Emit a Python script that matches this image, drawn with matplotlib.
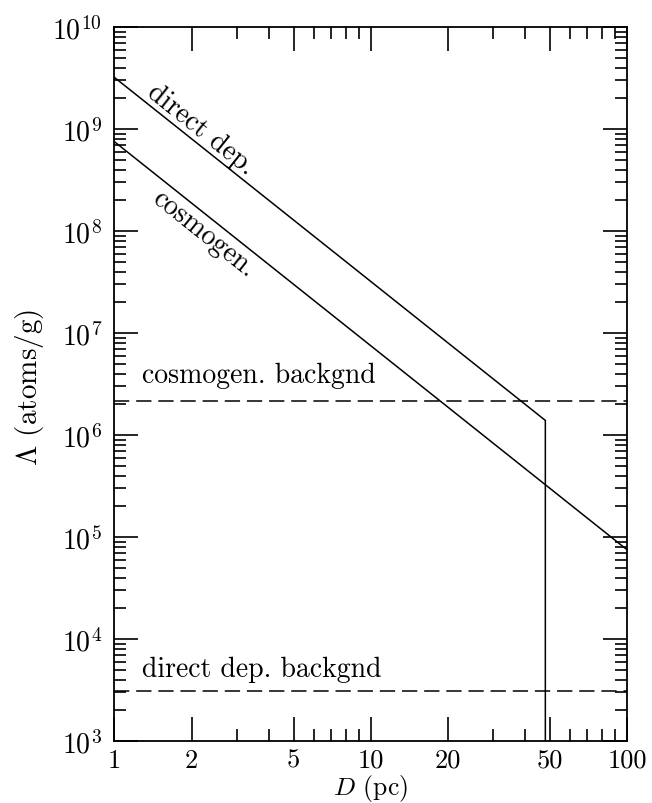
import numpy as np
import matplotlib
matplotlib.use("Agg")
import matplotlib.pyplot as plt
from matplotlib.ticker import FixedLocator, NullFormatter

plt.rcParams['font.family'] = 'serif'
plt.rcParams['font.serif'] = ['cmr10', 'DejaVu Serif']
plt.rcParams['mathtext.fontset'] = 'cm'
plt.rcParams['axes.formatter.use_mathtext'] = True

# ---- data ----
direct_D = [1.0, 48.0, 48.0]
direct_L = [3.2e9, 1.39e6, 1e2]
cosmo_D = [1.0, 100.0]
cosmo_L = [7.5e8, 7.5e4]
cosmo_bg = 2.15e6
direct_bg = 3.1e3

x_major = [1, 2, 5, 10, 20, 50, 100]
x_major_labels = ['1', '2', '5', '10', '20', '50', '100']
y_major = [1e3, 1e4, 1e5, 1e6, 1e7, 1e8, 1e9, 1e10]
y_major_labels = [r'$10^{%d}$' % e for e in range(3, 11)]

FS = 20

fig = plt.figure(figsize=(6.52, 8.04), dpi=100)
ax = fig.add_axes([0.1756, 0.0771, 0.9617 - 0.1756, 0.9652 - 0.0771])
ax.set_xscale('log')
ax.set_yscale('log')
ax.set_xlim(1, 100)
ax.set_ylim(1e3, 1e10)

lw = 1.1
ax.plot(direct_D, direct_L, color='black', lw=lw, solid_joinstyle='miter')
ax.plot(cosmo_D, cosmo_L, color='black', lw=lw)
dash = (0, (10, 4.5))
ax.axhline(cosmo_bg, color='black', lw=lw, linestyle=dash)
ax.axhline(direct_bg, color='black', lw=lw, linestyle=dash)

# ticks
ax.xaxis.set_major_locator(FixedLocator(x_major))
ax.set_xticklabels(x_major_labels)
xminor = [m * d for d in (1, 10) for m in (3, 4, 6, 7, 8, 9)]
ax.xaxis.set_minor_locator(FixedLocator(xminor))
ax.xaxis.set_minor_formatter(NullFormatter())
ax.yaxis.set_major_locator(FixedLocator(y_major))
ax.set_yticklabels(y_major_labels)
yminor = [m * 10.0 ** e for e in range(3, 10) for m in range(2, 10)]
ax.yaxis.set_minor_locator(FixedLocator(yminor))
ax.yaxis.set_minor_formatter(NullFormatter())

ax.tick_params(which='both', direction='in', top=True, right=True, width=1.2, color='black')
ax.tick_params(which='major', length=17)
ax.tick_params(which='minor', length=8.5)
ax.tick_params(axis='x', which='major', labelsize=19, pad=5)
ax.tick_params(axis='y', which='major', labelsize=FS, pad=9)
for s in ax.spines.values():
    s.set_linewidth(1.3)

# axis labels
ax.set_xlabel(r'$D$ (pc)', fontsize=18.5)
ax.xaxis.set_label_coords(0.4985, -0.0645)
ax.xaxis.label.set_va('center')
ax.set_ylabel(r'$\Lambda$ (atoms/g)', fontsize=FS + 1)
ax.yaxis.set_label_coords(-0.166, 0.497)
ax.yaxis.label.set_va('center')

# rotated labels along the slope-(-2) lines
fig.canvas.draw()
p1 = ax.transData.transform((1, 1e9))
p2 = ax.transData.transform((10, 1e7))
ang = np.degrees(np.arctan2(p2[1] - p1[1], p2[0] - p1[0]))
ax.text(2.18, 1.0e9, 'direct dep.', rotation=ang, rotation_mode='anchor',
        ha='center', va='center', fontsize=FS)
ax.text(2.22, 9.6e7, 'cosmogen.', rotation=ang, rotation_mode='anchor',
        ha='center', va='center', fontsize=FS)

ax.text(1.28, 3.3e6, 'cosmogen. backgnd', ha='left', va='baseline', fontsize=FS)
ax.text(1.28, 4.3e3, 'direct dep. backgnd', ha='left', va='baseline', fontsize=FS)

fig.savefig('out.png', dpi=100)
